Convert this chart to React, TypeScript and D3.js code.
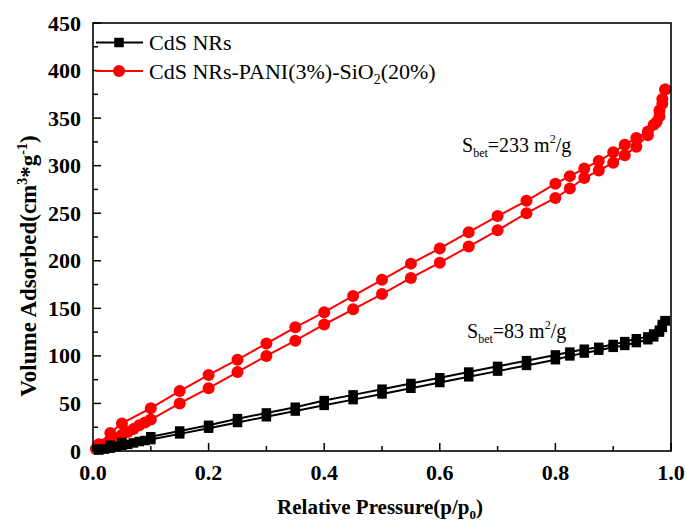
import React from 'react';
import * as d3 from 'd3';

// ---- data ----
const cdsAdsP = [0.01, 0.02, 0.03, 0.04, 0.05, 0.06, 0.07, 0.08, 0.09, 0.1, 0.15, 0.2, 0.25, 0.3, 0.35, 0.4, 0.45, 0.5, 0.55, 0.6, 0.65, 0.7, 0.75, 0.8, 0.825, 0.85, 0.875, 0.9, 0.92, 0.94, 0.96, 0.97, 0.98, 0.985, 0.99];
const cdsAdsV = [1, 2, 3, 4.5, 6, 7, 8.5, 10, 11, 12, 18, 24, 30, 36, 42, 48, 54, 60, 66, 72, 78, 84, 90, 96, 100, 103, 106, 109, 111, 114, 117, 120, 125, 130, 137];
const cdsDesP = [0.99, 0.985, 0.98, 0.97, 0.96, 0.94, 0.92, 0.9, 0.875, 0.85, 0.825, 0.8, 0.75, 0.7, 0.65, 0.6, 0.55, 0.5, 0.45, 0.4, 0.35, 0.3, 0.25, 0.2, 0.15, 0.1, 0.05, 0.03, 0.01];
const cdsDesV = [137, 133, 127, 123, 120, 118, 115, 112, 109, 107, 104, 101, 95, 89, 83, 77, 71, 65, 59, 53, 46, 40, 34, 27, 21, 15, 9, 6, 2];

const compAdsP = [0.005, 0.01, 0.02, 0.03, 0.04, 0.05, 0.06, 0.07, 0.08, 0.09, 0.1, 0.15, 0.2, 0.25, 0.3, 0.35, 0.4, 0.45, 0.5, 0.55, 0.6, 0.65, 0.7, 0.75, 0.8, 0.825, 0.85, 0.875, 0.9, 0.92, 0.94, 0.96, 0.975, 0.98, 0.985, 0.99];
const compAdsV = [2, 4, 7, 10, 13, 17, 20, 23, 27, 30, 33, 50, 66, 83, 100, 116, 133, 149, 165, 182, 198, 215, 232, 250, 266, 276, 287, 295, 303, 311, 320, 332, 346, 358, 370, 380];
const compDesP = [0.99, 0.985, 0.98, 0.97, 0.96, 0.94, 0.92, 0.9, 0.875, 0.85, 0.825, 0.8, 0.75, 0.7, 0.65, 0.6, 0.55, 0.5, 0.45, 0.4, 0.35, 0.3, 0.25, 0.2, 0.15, 0.1, 0.05, 0.03, 0.01];
const compDesV = [380, 365, 352, 343, 336, 329, 322, 314, 305, 297, 289, 281, 263, 247, 230, 213, 197, 180, 163, 146, 130, 113, 96, 80, 63, 45, 29, 19, 7];

const xTicks = [0, 0.2, 0.4, 0.6, 0.8, 1.0];
const xMinor = [0.1, 0.3, 0.5, 0.7, 0.9];
const yTicks = [0, 50, 100, 150, 200, 250, 300, 350, 400, 450];
const yMinor = [25, 75, 125, 175, 225, 275, 325, 375, 425];

const W = 687, H = 522;
const L = 93, R = 671, T = 23, B = 451;
const FONT = '"Liberation Serif", "Times New Roman", serif';

export default function App() {
  const x = d3.scaleLinear().domain([0, 1]).range([L, R]);
  const y = d3.scaleLinear().domain([0, 450]).range([B, T]);
  const line = d3.line<[number, number]>().x(d => x(d[0])).y(d => y(d[1]));
  const zip = (p: number[], v: number[]) => p.map((pp, i) => [pp, v[i]] as [number, number]);

  const black = '#000000';
  const red = '#ff0000';

  const cdsA = zip(cdsAdsP, cdsAdsV);
  const cdsD = zip(cdsDesP, cdsDesV);
  const compA = zip(compAdsP, compAdsV);
  const compD = zip(compDesP, compDesV);

  const sq = 9.5;
  const cr = 6;

  return (
    <svg width={W} height={H} style={{ position: 'absolute', left: 0, top: 0, background: '#fff' }} fontFamily={FONT}>
      <rect x={0} y={0} width={W} height={H} fill="#fff" />
      {/* series: red */}
      <g>
        <path d={line(compA) || ''} fill="none" stroke={red} strokeWidth={2} />
        <path d={line(compD) || ''} fill="none" stroke={red} strokeWidth={2} />
        {compA.concat(compD).map((d, i) => (
          <circle key={'r' + i} cx={x(d[0])} cy={y(d[1])} r={cr} fill={red} />
        ))}
      </g>
      {/* series: black */}
      <g>
        <path d={line(cdsA) || ''} fill="none" stroke={black} strokeWidth={2} />
        <path d={line(cdsD) || ''} fill="none" stroke={black} strokeWidth={2} />
        {cdsA.concat(cdsD).map((d, i) => (
          <rect key={'b' + i} x={x(d[0]) - sq / 2} y={y(d[1]) - sq / 2} width={sq} height={sq} fill={black} />
        ))}
      </g>

      {/* frame */}
      <rect x={L} y={T} width={R - L} height={B - T} fill="none" stroke="#000" strokeWidth={1.6} />

      {/* x axis ticks */}
      {xTicks.map(t => (
        <g key={'xt' + t}>
          <line x1={x(t)} x2={x(t)} y1={B} y2={B - 8} stroke="#000" strokeWidth={1.5} />
          <text x={x(t)} y={480} textAnchor="middle" fontSize={22} fontWeight="bold">{t.toFixed(1)}</text>
        </g>
      ))}
      {xMinor.map(t => (
        <line key={'xm' + t} x1={x(t)} x2={x(t)} y1={B} y2={B - 5} stroke="#000" strokeWidth={1.5} />
      ))}
      {/* y axis ticks */}
      {yTicks.map(t => (
        <g key={'yt' + t}>
          <line x1={L} x2={L + 8} y1={y(t)} y2={y(t)} stroke="#000" strokeWidth={1.5} />
          <text x={81} y={y(t) + 7.5} textAnchor="end" fontSize={22} fontWeight="bold">{t}</text>
        </g>
      ))}
      {yMinor.map(t => (
        <line key={'ym' + t} x1={L} x2={L + 5} y1={y(t)} y2={y(t)} stroke="#000" strokeWidth={1.5} />
      ))}

      {/* axis titles */}
      <text x={380} y={514} textAnchor="middle" fontSize={21} fontWeight="bold">
        Relative Pressure(p/p<tspan fontSize={13} dy={5}>0</tspan><tspan dy={-5}>)</tspan>
      </text>
      <text transform="translate(36,266) rotate(-90)" textAnchor="middle" fontSize={23} fontWeight="bold">
        Volume Adsorbed(cm<tspan fontSize={14} dy={-9}>3</tspan><tspan dy={9}>*g</tspan><tspan fontSize={14} dy={-9}>-1</tspan><tspan dy={9}>)</tspan>
      </text>

      {/* legend */}
      <line x1={96} x2={143} y1={42.5} y2={42.5} stroke={black} strokeWidth={2} />
      <rect x={119 - sq / 2} y={42.5 - sq / 2} width={sq} height={sq} fill={black} />
      <text x={149} y={50} fontSize={22}>CdS NRs</text>
      <line x1={96} x2={143} y1={71} y2={71} stroke={red} strokeWidth={2} />
      <circle cx={119} cy={71} r={cr} fill={red} />
      <text x={149} y={79} fontSize={22}>
        CdS NRs-PANI(3%)-SiO<tspan fontSize={14} dy={5}>2</tspan><tspan dy={-5}>(20%)</tspan>
      </text>

      {/* annotations */}
      <text x={462} y={152} fontSize={20}>
        S<tspan fontSize={12} dy={5}>bet</tspan><tspan dy={-5}>=233 m</tspan><tspan fontSize={12} dy={-9}>2</tspan><tspan dy={9}>/g</tspan>
      </text>
      <text x={467} y={338} fontSize={20}>
        S<tspan fontSize={12} dy={5}>bet</tspan><tspan dy={-5}>=83 m</tspan><tspan fontSize={12} dy={-9}>2</tspan><tspan dy={9}>/g</tspan>
      </text>
    </svg>
  );
}
